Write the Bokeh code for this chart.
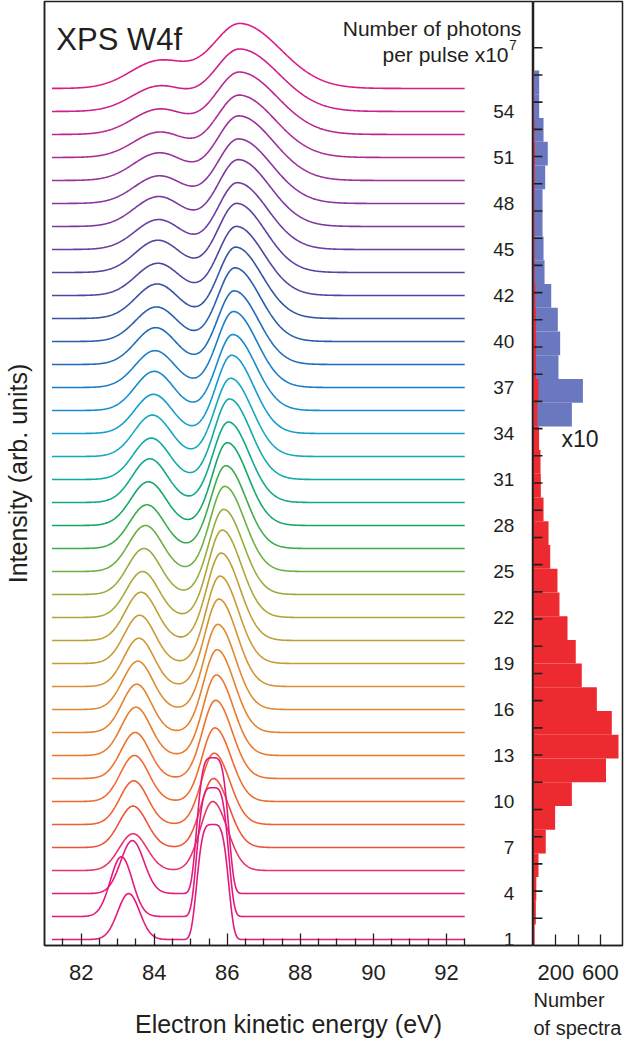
import numpy as np
from bokeh.plotting import figure
from bokeh.layouts import row
from bokeh.models import Range1d, FixedTicker, ColumnDataSource, Title
from bokeh.core.properties import value
from bokeh.embed import file_html
from bokeh.resources import INLINE

# ---------------- data ----------------
# photon-number labels (x10^7 per pulse) and the spectrum (offset index) they mark
photon_labels = ["1", "4", "7", "10", "13", "16", "19", "22", "25", "28",
                 "31", "34", "37", "40", "42", "45", "48", "51", "54"]
label_curve = [0, 2, 4, 6, 8, 10, 12, 14, 16, 18, 20, 22, 24, 26, 28, 30, 32, 34, 36]

# per-spectrum peak parameters (38 stacked spectra, bottom -> top)
peak1_ev = [83.30, 83.10, 83.40, 83.42, 83.42, 83.44, 83.46, 83.48, 83.50, 83.52,
            83.55, 83.58, 83.60, 83.64, 83.68, 83.72, 83.76, 83.80, 83.84, 83.88,
            83.92, 83.95, 83.98, 84.00, 84.02, 84.04, 84.06, 84.08, 84.10, 84.10,
            84.12, 84.12, 84.14, 84.14, 84.15, 84.15, 84.15, 84.15]
peak2_ev = [85.60, 85.60, 85.60, 85.60, 85.62, 85.64, 85.66, 85.68, 85.70, 85.72,
            85.74, 85.77, 85.80, 85.83, 85.86, 85.90, 85.93, 85.96, 86.00, 86.03,
            86.06, 86.09, 86.12, 86.15, 86.17, 86.19, 86.21, 86.23, 86.25, 86.26,
            86.28, 86.30, 86.31, 86.32, 86.33, 86.34, 86.35, 86.36]
peak1_height = [2.0, 2.6, 2.3, 1.6, 1.8, 1.9, 2.0, 2.0, 2.1, 2.1,
                2.1, 2.1, 2.1, 2.1, 2.0, 2.0, 2.0, 1.9, 1.9, 1.9,
                1.8, 1.8, 1.7, 1.7, 1.6, 1.6, 1.5, 1.5, 1.4, 1.4,
                1.3, 1.3, 1.2, 1.2, 1.1, 1.1, 1.1, 1.2]
peak2_height = [5.0, 5.6, 5.9, 3.0, 3.0, 3.1, 3.2, 3.4, 3.5, 3.6,
                3.7, 3.8, 3.8, 3.8, 3.8, 3.7, 3.7, 3.6, 3.6, 3.5,
                3.5, 3.4, 3.4, 3.3, 3.3, 3.2, 3.2, 3.1, 3.0, 3.0,
                2.9, 2.9, 2.8, 2.8, 2.7, 2.7, 2.7, 2.8]
peak1_width = [0.30, 0.30, 0.32, 0.38, 0.38, 0.38, 0.39, 0.39, 0.40, 0.40,
               0.41, 0.41, 0.42, 0.43, 0.44, 0.45, 0.46, 0.47, 0.48, 0.48,
               0.49, 0.50, 0.51, 0.52, 0.54, 0.55, 0.57, 0.58, 0.60, 0.62,
               0.64, 0.66, 0.68, 0.70, 0.72, 0.74, 0.76, 0.80]
peak2_width_low = [0.40, 0.40, 0.40, 0.34, 0.34, 0.35, 0.35, 0.36, 0.36, 0.37,
                   0.37, 0.38, 0.38, 0.39, 0.39, 0.40, 0.40, 0.41, 0.41, 0.42,
                   0.42, 0.43, 0.43, 0.44, 0.45, 0.46, 0.47, 0.48, 0.50, 0.52,
                   0.54, 0.56, 0.58, 0.60, 0.63, 0.66, 0.70, 0.75]
peak2_width_high = [0.40, 0.40, 0.40, 0.40, 0.42, 0.43, 0.44, 0.45, 0.46, 0.47,
                    0.48, 0.49, 0.50, 0.51, 0.52, 0.53, 0.54, 0.55, 0.56, 0.57,
                    0.58, 0.59, 0.60, 0.62, 0.64, 0.66, 0.69, 0.72, 0.75, 0.78,
                    0.82, 0.86, 0.90, 0.94, 0.98, 1.02, 1.06, 1.10]
energy_first, energy_last = 81.2, 92.5

# histogram: number of spectra per photon-number bin (bins from 21 on also shown x10)
hist_counts = [21, 25, 45, 110, 194, 344, 650, 762, 702, 568,
               433, 379, 305, 233, 215, 150, 135, 90, 66, 63,
               50, 34.4, 44.3, 22.4, 23.9, 21.8, 15.9, 9.9, 9.0, 8.1,
               8.1, 10.5, 12.8, 9.0, 5.1, 5.1]
hist_first_partial = 9
hist_bin_start = 0.77
hist_bin_width = 0.872
hist_x10_from = 21

x_ticks = [82, 84, 86, 88, 90, 92]
hist_ticks = [200, 400, 600]
hist_side_ticks = list(range(1, 34))

# ---------------- styles ----------------
FONT = "Liberation Sans"
INK = "#231F20"
palette = ["#E4197E", "#E4197E", "#E4197E", "#E8336A", "#EC5238", "#EE6130", "#EF6A2E",
           "#EC722C", "#E87A2C", "#E4822C", "#DE8A2E", "#D59230", "#C99A32", "#BCA034",
           "#ACA638", "#96AC3C", "#6CB044", "#3AAC4C", "#14A868", "#10A888", "#10AAA4",
           "#12A8C0", "#149CD0", "#168CCC", "#1A7CC4", "#206CB8", "#285EAC", "#3652A4",
           "#4A48A0", "#5C40A0", "#6C3CA0", "#7C38A0", "#8C34A0", "#9C309C", "#AC2C98",
           "#BC2692", "#CC208C", "#DC1C86"]
peak1_power = [2] * 38
peak2_power = [4, 4, 4] + [2] * 35

# ---------------- main panel ----------------
p = figure(width=533, height=1046, x_range=Range1d(80.995, 94.356),
           y_range=Range1d(-0.26, 40.78), output_backend="svg", toolbar_location=None,
           min_border_left=43, min_border_right=1, min_border_top=1, min_border_bottom=101)
p.grid.visible = False
p.outline_line_color = INK
p.outline_line_width = 1.5

energy = np.arange(energy_first, energy_last + 1e-9, 0.02)


def profile(e, centre, height, wl, wh, n):
    w = np.where(e < centre, wl, wh)
    return height * np.exp(-0.5 * np.abs((e - centre) / w) ** n)


xs, ys, cols = [], [], []
for k in reversed(range(len(peak2_ev))):
    y = (k
         + profile(energy, peak1_ev[k], peak1_height[k], peak1_width[k], peak1_width[k], peak1_power[k])
         + profile(energy, peak2_ev[k], peak2_height[k], peak2_width_low[k], peak2_width_high[k], peak2_power[k]))
    xs.append(energy.tolist())
    ys.append(y.tolist())
    cols.append(palette[k])
p.multi_line(xs=xs, ys=ys, line_color=cols, line_width=1.6)

lab_src = ColumnDataSource(dict(x=[93.86] * len(photon_labels), y=label_curve, t=photon_labels))
p.text(x="x", y="y", text="t", source=lab_src, text_font=value(FONT), text_font_size="19px",
       text_align="right", text_baseline="middle", text_color=INK)

p.text(x=[81.32], y=[39.14], text=["XPS W4f"], text_font=value(FONT), text_font_size="31px",
       text_align="left", text_baseline="alphabetic", text_color=INK)
p.text(x=[94.05], y=[39.61], text=["Number of photons"], text_font=value(FONT),
       text_font_size="21px", text_align="right", text_baseline="alphabetic", text_color=INK)
p.text(x=[93.70], y=[38.49], text=["per pulse x10"], text_font=value(FONT),
       text_font_size="21px", text_align="right", text_baseline="alphabetic", text_color=INK)
p.text(x=[93.71], y=[38.90], text=["7"], text_font=value(FONT),
       text_font_size="14px", text_align="left", text_baseline="alphabetic", text_color=INK)

xa = p.xaxis[0]
xa.ticker = FixedTicker(ticks=x_ticks,
                        minor_ticks=[v / 2 for v in range(163, 186) if v % 4 != 0])
xa.major_tick_in = 12
xa.major_tick_out = 0
xa.minor_tick_in = 7
xa.minor_tick_out = 0
xa.major_tick_line_color = INK
xa.minor_tick_line_color = INK
xa.major_tick_line_width = 1.3
xa.minor_tick_line_width = 1.3
xa.axis_line_color = INK
xa.axis_line_width = 1.5
xa.major_label_text_font = FONT
xa.major_label_text_font_size = "22px"
xa.major_label_text_color = INK
xa.major_label_standoff = 19
xa.axis_label = "Electron kinetic energy (eV)"
xa.axis_label_text_font = FONT
xa.axis_label_text_font_size = "25px"
xa.axis_label_text_font_style = "normal"
xa.axis_label_text_color = INK
xa.axis_label_standoff = 27

ya = p.yaxis[0]
ya.ticker = FixedTicker(ticks=[])
ya.major_tick_in = 0
ya.major_tick_out = 0
ya.minor_tick_in = 0
ya.minor_tick_out = 0
ya.major_label_standoff = 0
ya.axis_line_color = INK
ya.axis_line_width = 1.5
ya.axis_label = "Intensity (arb. units)"
ya.axis_label_text_font = FONT
ya.axis_label_text_font_size = "25px"
ya.axis_label_text_font_style = "normal"
ya.axis_label_text_color = INK
ya.axis_label_standoff = 13

# ---------------- histogram panel ----------------
h = figure(width=91, height=1046, x_range=Range1d(0, 798), y_range=Range1d(0, 34.7),
           output_backend="svg", toolbar_location=None,
           min_border_left=0, min_border_right=2, min_border_top=1, min_border_bottom=101)
h.grid.visible = False
h.outline_line_color = INK
h.outline_line_width = 1.5
h.yaxis.visible = False

n_bins = len(hist_counts)
lo = [hist_bin_start + hist_bin_width * i for i in range(n_bins)]
hi = [hist_bin_start + hist_bin_width * (i + 1) for i in range(n_bins)]
blue = ColumnDataSource(dict(left=[0] * (n_bins - hist_x10_from),
                             right=[c * 10 for c in hist_counts[hist_x10_from:]],
                             bottom=lo[hist_x10_from:], top=hi[hist_x10_from:]))
red = ColumnDataSource(dict(left=[0] * (n_bins + 1), right=[hist_first_partial] + hist_counts,
                            bottom=[0] + lo, top=[hist_bin_start] + hi))
h.quad(left="left", right="right", bottom="bottom", top="top", source=blue,
       fill_color="#6A78BF", line_color=None)
h.quad(left="left", right="right", bottom="bottom", top="top", source=red,
       fill_color="#ED2A30", line_color=None)
# photon-number axis ticks on the shared vertical axis, pointing into the panel
h.ray(x=0, y=hist_side_ticks, length=9, length_units="screen", angle=0,
      line_color=INK, line_width=1.6)
h.text(x=[251], y=[18.6], text=["x10"], text_font=value(FONT), text_font_size="23px",
       text_align="left", text_baseline="middle", text_color=INK)

hx = h.xaxis[0]
hx.ticker = FixedTicker(ticks=hist_ticks)
hx.major_label_overrides = {400: ""}
hx.major_tick_in = 11
hx.major_tick_out = 0
hx.minor_tick_in = 0
hx.minor_tick_out = 0
hx.major_tick_line_color = INK
hx.major_tick_line_width = 1.3
hx.axis_line_color = INK
hx.axis_line_width = 1.5
hx.major_label_text_font = FONT
hx.major_label_text_font_size = "22px"
hx.major_label_text_color = INK
hx.major_label_standoff = 19

for txt, so in (("Number", 8), ("of spectra", 0)):
    h.add_layout(Title(text=txt, align="left", text_font=FONT, text_font_size="20px",
                       text_font_style="normal", text_color=INK, standoff=so, offset=0),
                 "below")

layout = row(p, h)
open("out.html", "w").write(file_html(layout, INLINE))
